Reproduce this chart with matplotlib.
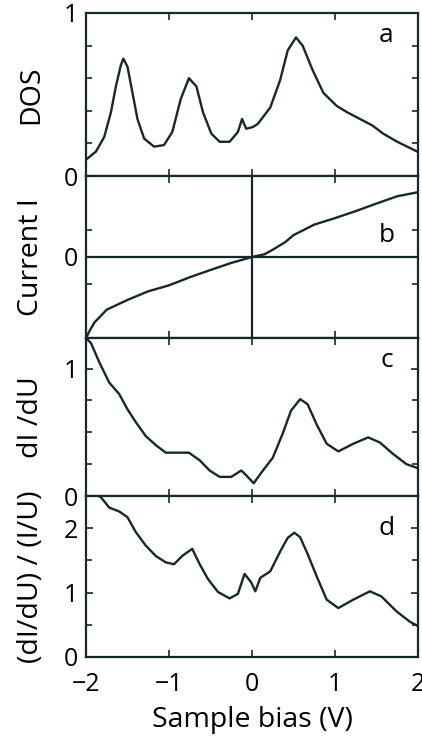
import numpy as np
import matplotlib
matplotlib.use("Agg")
import matplotlib.pyplot as plt
from matplotlib.ticker import FixedLocator

plt.rcParams["font.family"] = ["Open Sans", "DejaVu Sans"]

# panel a: DOS
dos_x = [-2.0, -1.88, -1.78, -1.70, -1.64, -1.58, -1.55, -1.50, -1.44, -1.38,
         -1.30, -1.18, -1.06, -0.96, -0.86, -0.76, -0.67, -0.59, -0.49, -0.39,
         -0.27, -0.17, -0.12, -0.07, 0.01, 0.07, 0.22, 0.34, 0.43, 0.53,
         0.61, 0.73, 0.86, 1.02, 1.15, 1.30, 1.45, 1.58, 1.75, 1.99]
dos_y = [0.10, 0.15, 0.24, 0.39, 0.55, 0.68, 0.72, 0.67, 0.51, 0.35,
         0.23, 0.18, 0.19, 0.27, 0.47, 0.60, 0.55, 0.39, 0.26, 0.21,
         0.21, 0.27, 0.35, 0.29, 0.30, 0.32, 0.42, 0.59, 0.77, 0.85,
         0.80, 0.65, 0.51, 0.43, 0.39, 0.35, 0.31, 0.26, 0.21, 0.15]

# panel b: current
cur_x = [-2.0, -1.95, -1.9, -1.75, -1.5, -1.25, -1.0, -0.75, -0.5, -0.25,
         0.0, 0.15, 0.25, 0.4, 0.5, 0.75, 1.0, 1.25, 1.5, 1.75, 2.0]
cur_y = [-3.0, -2.7, -2.43, -1.95, -1.59, -1.27, -1.05, -0.75, -0.48, -0.22,
         0.0, 0.10, 0.27, 0.55, 0.81, 1.20, 1.44, 1.70, 1.98, 2.25, 2.40]

# panel c: dI/dU
didu_x = [-2.0, -1.94, -1.84, -1.72, -1.60, -1.50, -1.40, -1.28, -1.16, -1.04,
          -0.92, -0.76, -0.63, -0.51, -0.39, -0.25, -0.13, -0.08, 0.02, 0.12,
          0.25, 0.37, 0.47, 0.58, 0.67, 0.78, 0.90, 1.04, 1.22, 1.40,
          1.54, 1.70, 1.86, 1.99]
didu_y = [1.24, 1.20, 1.05, 0.89, 0.80, 0.68, 0.58, 0.47, 0.40, 0.34,
          0.34, 0.34, 0.28, 0.20, 0.15, 0.15, 0.20, 0.17, 0.10, 0.19,
          0.30, 0.49, 0.67, 0.76, 0.72, 0.56, 0.41, 0.35, 0.41, 0.46,
          0.42, 0.33, 0.25, 0.22]

# panel d: normalized conductance
norm_x = [-1.85, -1.82, -1.72, -1.60, -1.50, -1.40, -1.28, -1.16, -1.04, -0.94,
          -0.84, -0.72, -0.63, -0.53, -0.41, -0.27, -0.17, -0.09, -0.01, 0.04,
          0.10, 0.22, 0.34, 0.43, 0.51, 0.58, 0.67, 0.78, 0.90, 1.04,
          1.22, 1.42, 1.56, 1.74, 1.90, 2.0]
norm_y = [2.50, 2.48, 2.32, 2.26, 2.17, 1.94, 1.73, 1.57, 1.47, 1.44,
          1.57, 1.68, 1.44, 1.21, 1.01, 0.91, 0.98, 1.29, 1.16, 1.02,
          1.23, 1.33, 1.64, 1.85, 1.93, 1.86, 1.60, 1.25, 0.89, 0.76,
          0.89, 1.02, 0.94, 0.71, 0.55, 0.48]

INK = "#16282b"

fig = plt.figure(figsize=(4.22, 7.38), dpi=100)
left, width = 86 / 422, 332 / 422
boxes = [(176, 163), (338, 162), (496, 158), (657, 161)]  # (bottom px, height px)
axes = [fig.add_axes([left, (738 - b) / 738, width, h / 738]) for b, h in boxes]

panels = [
    (dos_x, dos_y, (0, 1.0), [0, 1], np.arange(0.2, 1.0, 0.2), "DOS", "a", 0.86),
    (cur_x, cur_y, (-3, 3), [0], [-1, 1], "Current I", "b", 0.63),
    (didu_x, didu_y, (0, 1.24), [0, 1], [0.25, 0.5, 0.75], "dI /dU", "c", 0.86),
    (norm_x, norm_y, (0, 2.5), [0, 1, 2], [0.5, 1.5], "(dI/dU) / (I/U)", "d", 0.80),
]

for ax, (xs, ys, ylim, yt, ym, ylab, tag, ty) in zip(axes, panels):
    ax.plot(xs, ys, color=INK, lw=1.7, solid_joinstyle="round")
    ax.set_xlim(-2, 2)
    ax.set_ylim(*ylim)
    ax.set_yticks(yt)
    ax.yaxis.set_minor_locator(FixedLocator(ym))
    ax.set_xticks([-2, -1, 0, 1, 2])
    ax.tick_params(which="both", direction="in", top=True, right=True,
                   color=INK, width=1.2, labelsize=18, pad=6)
    ax.tick_params(axis="x", pad=11)
    ax.tick_params(which="major", length=5)
    ax.tick_params(which="minor", length=4)
    for s in ax.spines.values():
        s.set_color(INK)
        s.set_linewidth(1.6)
    ax.set_ylabel(ylab, fontsize=20.5, labelpad=13)
    ax.text(0.905, ty, tag, transform=ax.transAxes, fontsize=19,
            ha="center", va="center")
    if ax is not axes[-1]:
        ax.tick_params(labelbottom=False)

axes[1].axhline(0, color=INK, lw=1.6)
axes[1].axvline(0, color=INK, lw=1.6)

axes[-1].set_xticklabels(["\u22122", "\u22121", "0", "1", "2"])
axes[-1].set_xlabel("Sample bias (V)", fontsize=20.5, labelpad=6)

fig.align_ylabels(axes)
fig.savefig("out.png", dpi=100)
